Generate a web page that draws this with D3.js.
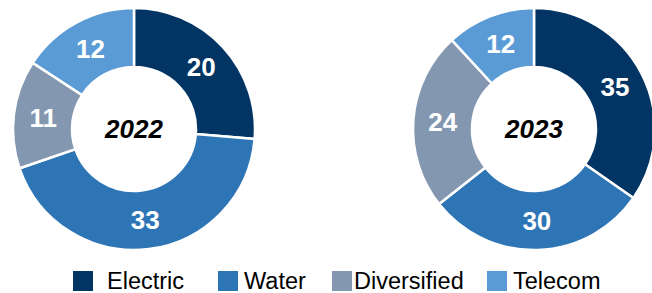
<!DOCTYPE html>
<html>
<head>
<meta charset="utf-8">
<script src="https://cdn.jsdelivr.net/npm/d3@7"></script>
<style>
  body { margin: 0; background: #fff; }
  text { font-family: Arial, "Liberation Sans", sans-serif; }
</style>
</head>
<body>
<script>
// Data
const categories = ['Electric', 'Water', 'Diversified', 'Telecom'];
const years = ['2022', '2023'];
const values2022 = [20, 33, 11, 12];
const values2023 = [35, 30, 24, 12];
const colors = ['#033564', '#2E75B6', '#8497B0', '#5B9BD5'];

const width = 652;
const height = 293;

const svg = d3.select('body')
  .append('svg')
  .attr('width', width)
  .attr('height', height);

const color = d3.scaleOrdinal().domain(categories).range(colors);

const outerR = 121;
const innerR = 62;

const pie = d3.pie().sort(null).value(d => d.value);
const arc = d3.arc().innerRadius(innerR).outerRadius(outerR);

const donuts = [
  { year: years[0], values: values2022, cx: 134, cy: 129 },
  { year: years[1], values: values2023, cx: 534, cy: 129 }
];

donuts.forEach(dn => {
  const g = svg.append('g').attr('transform', `translate(${dn.cx},${dn.cy})`);
  const slices = pie(categories.map((c, i) => ({ name: c, value: dn.values[i] })));

  g.selectAll('path')
    .data(slices)
    .join('path')
    .attr('d', arc)
    .attr('fill', d => color(d.data.name))
    .attr('stroke', '#fff')
    .attr('stroke-width', 2.5);

  g.selectAll('text.val')
    .data(slices)
    .join('text')
    .attr('class', 'val')
    .attr('transform', d => `translate(${arc.centroid(d)})`)
    .attr('text-anchor', 'middle')
    .attr('dy', '0.35em')
    .attr('fill', '#fff')
    .attr('font-weight', 'bold')
    .attr('font-size', 26)
    .text(d => d.data.value);

  g.append('text')
    .attr('text-anchor', 'middle')
    .attr('dy', '0.35em')
    .attr('font-weight', 'bold')
    .attr('font-style', 'italic')
    .attr('font-size', 26)
    .attr('fill', '#000')
    .text(dn.year);
});

// Legend
const legendX = [73, 218, 332, 487];
const textGap = [34, 26, 22, 26];
const legend = svg.append('g');
categories.forEach((c, i) => {
  legend.append('rect')
    .attr('x', legendX[i])
    .attr('y', 271)
    .attr('width', 20)
    .attr('height', 20)
    .attr('fill', color(c));
  legend.append('text')
    .attr('x', legendX[i] + textGap[i])
    .attr('y', 289)
    .attr('font-size', 23.5)
    .attr('fill', '#000')
    .text(c);
});
</script>
</body>
</html>
